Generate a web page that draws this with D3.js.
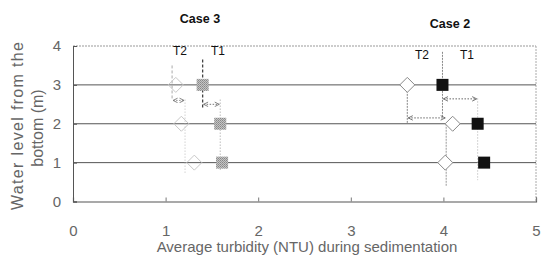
<!DOCTYPE html>
<html><head><meta charset="utf-8">
<script src="https://cdn.jsdelivr.net/npm/d3@7/dist/d3.min.js"></script>
<style>body{margin:0;background:#fff}svg{display:block}text{font-family:"Liberation Sans",Arial,sans-serif}</style>
</head><body><svg id="c" width="543" height="261"></svg>
<script>
const levels = [3, 2, 1];
const case3T1 = [1.40, 1.59, 1.61];
const case3T2 = [1.11, 1.17, 1.31];
const case2T1 = [3.99, 4.37, 4.44];
const case2T2 = [3.61, 4.10, 4.02];
const xTicks = [0, 1, 2, 3, 4, 5];
const yTicks = [0, 1, 2, 3, 4];

const svg = d3.select("#c");
const x = d3.scaleLinear().domain([0, 5]).range([73, 536]);
const y = d3.scaleLinear().domain([0, 4]).range([201.5, 46]);

const defs = svg.append("defs");
function arrowMarker(id, col, orient) {
  defs.append("marker").attr("id", id).attr("viewBox", "0 0 8 8").attr("refX", 7).attr("refY", 4)
    .attr("markerWidth", 6).attr("markerHeight", 6).attr("orient", orient)
    .append("path").attr("d", "M1,1 L7,4 L1,7").attr("fill", "none").attr("stroke", col).attr("stroke-width", 1.2);
}
arrowMarker("a3", "#777", "auto-start-reverse");
arrowMarker("a2", "#666", "auto-start-reverse");
const pat = defs.append("pattern").attr("id", "hatch").attr("width", 2).attr("height", 2).attr("patternUnits", "userSpaceOnUse");
pat.append("rect").attr("width", 2).attr("height", 2).attr("fill", "#c4c4c4");
pat.append("rect").attr("width", 1).attr("height", 1).attr("fill", "#888");
pat.append("rect").attr("x", 1).attr("y", 1).attr("width", 1).attr("height", 1).attr("fill", "#999");

// frame
svg.append("line").attr("x1", x(0)).attr("x2", x(5)).attr("y1", y(4)).attr("y2", y(4))
  .attr("stroke", "#999").attr("stroke-dasharray", "2,1");
svg.append("line").attr("x1", x(5)).attr("x2", x(5)).attr("y1", y(4)).attr("y2", y(0))
  .attr("stroke", "#aaa").attr("stroke-dasharray", "2,1");
// horizontal level lines
svg.selectAll("line.lvl").data(levels).join("line").attr("class", "lvl")
  .attr("x1", x(0)).attr("x2", x(5)).attr("y1", d => y(d)).attr("y2", d => y(d))
  .attr("stroke", "#555").attr("stroke-width", 1);

// axes
const xAxis = d3.axisBottom(x).tickValues(xTicks).tickSize(-4).tickPadding(24).tickFormat(d3.format("d"));
const gx = svg.append("g").attr("transform", `translate(0,${y(0)})`).call(xAxis);
gx.select(".domain").attr("stroke", "#555").attr("stroke-width", 1.2);
gx.selectAll(".tick line").attr("stroke", "#777");
gx.selectAll(".tick text").attr("font-size", 15).attr("fill", "#666")
  .style("font-family", "Liberation Sans, Arial, sans-serif");

const yAxis = d3.axisLeft(y).tickValues(yTicks).tickSize(-4).tickPadding(12).tickFormat(d3.format("d"));
const gy = svg.append("g").attr("transform", `translate(${x(0)},0)`).call(yAxis);
gy.select(".domain").attr("stroke", "#555");
gy.selectAll(".tick line").attr("stroke", "#555");
gy.selectAll(".tick text").attr("font-size", 15).attr("fill", "#666")
  .style("font-family", "Liberation Sans, Arial, sans-serif");

// axis titles
svg.append("text").attr("x", 307).attr("y", 252).attr("text-anchor", "middle")
  .attr("font-size", 15).attr("fill", "#666").text("Average turbidity (NTU) during sedimentation");
const yt = svg.append("g").attr("transform", `translate(23,126) rotate(-90)`);
yt.append("text").attr("x", -84).attr("y", 0).attr("font-size", 16).attr("fill", "#666")
  .attr("textLength", 168).attr("lengthAdjust", "spacing").text("Water level from the");
yt.append("text").attr("x", -2).attr("y", 20).attr("text-anchor", "middle").attr("font-size", 16).attr("fill", "#666")
  .text("bottom (m)");

// annotation guide lines (data units derived from the series)
const guides = [
  // Case 3
  {x1: case3T1[0], y1: 3.65, x2: case3T1[0], y2: 2.4, dash: "3,2", col: "#444", w: 1.3},
  {x1: case3T1[1], y1: 2.62, x2: case3T1[1], y2: 0.8, dash: "1,2", col: "#999", w: 1},
  {x1: case3T2[0] - 0.04, y1: 3.5, x2: case3T2[0] - 0.04, y2: 2.6, dash: "3,2", col: "#aaa", w: 1},
  {x1: case3T2[1] + 0.04, y1: 2.62, x2: case3T2[1] + 0.04, y2: 0.7, dash: "1,2", col: "#bbb", w: 1},
  // Case 2
  {x1: case2T2[0], y1: 3, x2: case2T2[0], y2: 2.0, dash: "2,1", col: "#888", w: 1},
  {x1: case2T1[0], y1: 3.85, x2: case2T1[0], y2: 2.15, dash: "2,1", col: "#888", w: 1},
  {x1: case2T2[2] + 0.01, y1: 2.0, x2: case2T2[2] + 0.01, y2: 0.4, dash: "2,1", col: "#999", w: 1},
  {x1: case2T1[1], y1: 2.65, x2: case2T1[1], y2: 0.55, dash: "1,2", col: "#aaa", w: 1}
];
svg.selectAll("line.guide").data(guides).join("line").attr("class", "guide")
  .attr("x1", d => x(d.x1)).attr("x2", d => x(d.x2)).attr("y1", d => y(d.y1)).attr("y2", d => y(d.y2))
  .attr("stroke", d => d.col).attr("stroke-width", d => d.w).attr("stroke-dasharray", d => d.dash);

const arrows = [
  {x1: case3T1[0], x2: case3T1[1], yv: 2.5, m: "a3", col: "#777"},
  {x1: case3T2[0] - 0.04, x2: case3T2[1] + 0.04, yv: 2.6, m: "a3", col: "#999"},
  {x1: case2T2[0], x2: case2T2[2] + 0.01, yv: 2.15, m: "a2", col: "#666"},
  {x1: case2T1[0], x2: case2T1[1], yv: 2.64, m: "a2", col: "#666"}
];
svg.selectAll("line.arr").data(arrows).join("line").attr("class", "arr")
  .attr("x1", d => x(d.x1) + 1).attr("x2", d => x(d.x2) - 1).attr("y1", d => y(d.yv)).attr("y2", d => y(d.yv))
  .attr("stroke", d => d.col).attr("stroke-dasharray", "1.5,1.5")
  .attr("marker-start", d => `url(#${d.m})`).attr("marker-end", d => `url(#${d.m})`);

// markers
const sq = 12, dm = 7.5;
function squares(vals, fill, cls) {
  svg.selectAll("rect." + cls).data(vals.map((v, i) => ({v, l: levels[i]}))).join("rect").attr("class", cls)
    .attr("x", d => x(d.v) - sq / 2).attr("y", d => y(d.l) - sq / 2).attr("width", sq).attr("height", sq)
    .attr("fill", fill);
}
function diamonds(vals, stroke, fill, cls) {
  svg.selectAll("path." + cls).data(vals.map((v, i) => ({v, l: levels[i]}))).join("path").attr("class", cls)
    .attr("d", d => { const cx = x(d.v), cy = y(d.l); return `M${cx},${cy - dm}L${cx + dm},${cy}L${cx},${cy + dm}L${cx - dm},${cy}Z`; })
    .attr("fill", fill).attr("stroke", stroke).attr("stroke-width", 1);
}
diamonds(case3T2, "#c8c8c8", "none", "d3");
squares(case3T1, "url(#hatch)", "s3");
diamonds(case2T2, "#888", "#fff", "d2");
squares(case2T1, "#111", "s2");

// labels
const labels = [
  {t: "Case 3", x: 200, y: 23, b: true, s: 12.5},
  {t: "T2", x: 180, y: 55, b: false, s: 12},
  {t: "T1", x: 218, y: 55, b: false, s: 12},
  {t: "Case 2", x: 450, y: 28, b: true, s: 12.5},
  {t: "T2", x: 422, y: 59, b: false, s: 12},
  {t: "T1", x: 467, y: 59, b: false, s: 12}
];
svg.selectAll("text.lab").data(labels).join("text").attr("class", "lab")
  .attr("x", d => d.x).attr("y", d => d.y).attr("text-anchor", "middle")
  .attr("font-size", d => d.s).attr("font-weight", d => d.b ? "bold" : "normal").attr("fill", "#111")
  .text(d => d.t);
</script></body></html>
